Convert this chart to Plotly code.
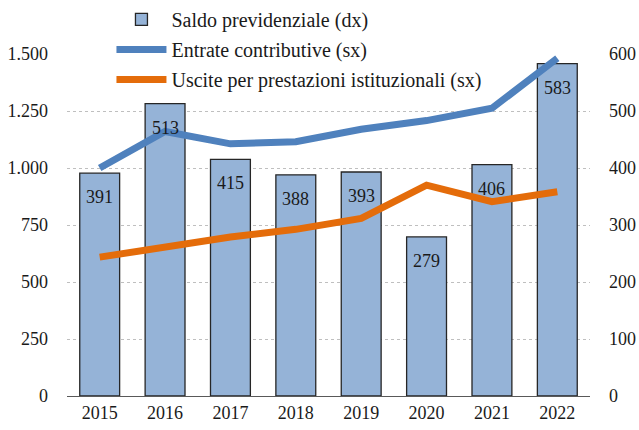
import plotly.graph_objects as go

years = ["2015", "2016", "2017", "2018", "2019", "2020", "2021", "2022"]
saldo = [391, 513, 415, 388, 393, 279, 406, 583]
entrate = [1000, 1160, 1106, 1115, 1170, 1208, 1262, 1481]
uscite = [609, 652, 697, 731, 779, 925, 852, 896]

xpos = list(range(len(years)))

FONT = "Liberation Serif"
fig = go.Figure()
# bars on primary y (drawn right side), lines on overlaying y2 (left side) so lines sit on top
fig.add_trace(go.Bar(
    x=xpos, y=saldo, name="Saldo previdenziale (dx)", yaxis="y",
    marker=dict(color="#95B3D7", line=dict(color="#262626", width=1.3)),
    legendgroup="a", width=0.61,
))
fig.add_trace(go.Scatter(
    x=xpos, y=entrate, name="Entrate contributive (sx)", mode="lines", yaxis="y2",
    line=dict(color="#4F81BD", width=7), legendgroup="b",
))
fig.add_trace(go.Scatter(
    x=xpos, y=uscite, name="Uscite per prestazioni istituzionali (sx)", mode="lines", yaxis="y2",
    line=dict(color="#E46C0A", width=7), legendgroup="c",
))

for xi, v in zip(xpos, saldo):
    fig.add_annotation(x=xi, y=v, xref="x", yref="y", text=str(v), showarrow=False,
                       yshift=-24, font=dict(family=FONT, size=18, color="#1a1a1a"))

fig.update_layout(
    width=639, height=430,
    margin=dict(l=67, r=49, t=54, b=34, autoexpand=False),
    paper_bgcolor="white", plot_bgcolor="white",
    font=dict(family=FONT, size=18, color="#1a1a1a"),
    showlegend=True,
    legend=dict(x=0.085, y=1.158, xanchor="left", yanchor="top",
                bgcolor="white", font=dict(size=20),
                traceorder="grouped", tracegroupgap=1, itemwidth=50),
    xaxis=dict(range=[-0.5, len(years) - 0.5], tickvals=xpos, ticktext=years,
               showline=True, linecolor="#595959", linewidth=1.3, ticks="",
               tickfont=dict(size=18), showgrid=False, zeroline=False),
    yaxis=dict(range=[0, 600], tickvals=[0, 100, 200, 300, 400, 500, 600],
               side="right", showgrid=True, gridcolor="#BFBFBF", griddash="dot", gridwidth=1,
               zeroline=False, showline=False, ticks="", tickfont=dict(size=18),
               ticklabelstandoff=18),
    yaxis2=dict(range=[0, 1500], tickvals=[0, 250, 500, 750, 1000, 1250, 1500],
                ticktext=["0", "250", "500", "750", "1.000", "1.250", "1.500"],
                overlaying="y", side="left", showgrid=False, zeroline=False,
                showline=False, ticks="", tickfont=dict(size=18),
                ticklabelstandoff=18),
)
fig.write_html(
    "out.html",
    config={"displayModeBar": False},
    post_script="document.body.style.margin='0';document.body.style.overflow='hidden';",
)
